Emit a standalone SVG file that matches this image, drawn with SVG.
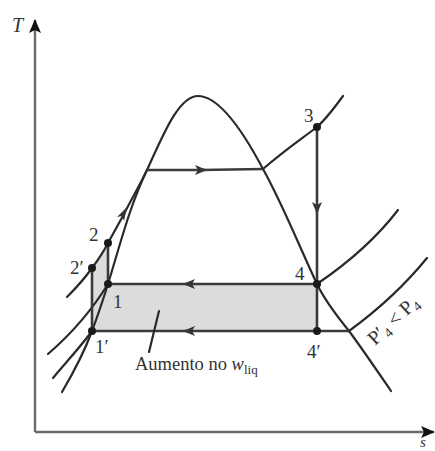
<svg xmlns="http://www.w3.org/2000/svg" width="435" height="451" viewBox="0 0 435 451">
<style>
.c{fill:none;stroke:#2a2a2a;stroke-width:2.2;stroke-linecap:round}
.h{fill:none;stroke:#3a3a3a;stroke-width:2.6}
.ax{fill:none;stroke:#6a6a6a;stroke-width:2.4}
.d{fill:#1a1a1a}
.t{font-family:"Liberation Serif","DejaVu Serif",serif;font-size:19px;fill:#333}
.tl{font-family:"Liberation Serif","DejaVu Serif",serif;font-size:18.5px;fill:#333}
.ah{fill:#333}
</style>
<defs>
<marker id="arr" viewBox="0 0 12 10" refX="10" refY="5" markerWidth="12" markerHeight="10" markerUnits="userSpaceOnUse" orient="auto">
<path d="M0,0 L12,5 L0,10 L3,5 z" fill="#333"/>
</marker>
<marker id="axa" viewBox="0 0 14 12" refX="13" refY="6" markerWidth="14" markerHeight="12" markerUnits="userSpaceOnUse" orient="auto">
<path d="M0,0 L14,6 L0,12 L3,6 z" fill="#111"/>
</marker>
</defs>

<g id="area">
<path d="M92,331 L92,268 C98,260 104,251 108,243 L108,284 L317,284 L317,331 Z" fill="#dcdcdc" stroke="none"/>
</g>

<g id="axes">
<line class="ax" x1="35" y1="432" x2="35" y2="20" marker-end="url(#axa)"/>
<line class="ax" x1="35" y1="432" x2="434" y2="432" marker-end="url(#axa)"/>
<text x="12" y="32" class="t" style="font-style:italic;font-size:20px">T</text>
<text x="420" y="447" class="t" style="font-style:italic;font-size:15px">s</text>
</g>

<g id="dome">
<path class="c" d="M62,392 C75,370 85,350 92,331 C98,315 103,300 108,284 C120,245 130,205 147,170 C162,138 178,96 198,96 C220,96 245,135 263,169 C283,205 300,248 317,284 C326,303 338,317 349,331 C361,347 378,372 391,391"/>
</g>

<g id="connectors">
<path class="c" d="M67,297 C77,287 85,278 92,268 C98,260 104,251 108,243 C113,234 118,225 124,214"/>
<path class="c" d="M123,216 C131,200 140,185 147,170"/>
<path class="ah" d="M127,207 L124,221 L122,216 L117,217 Z"/>
<path class="h" d="M147,170 L205,170" marker-end="url(#arr)"/>
<path class="h" d="M200,170 L263,169"/>
<path class="c" d="M263,169 C285,150 300,140 317,127 C327,118 335,107 343,96"/>
<path class="h" d="M317,127 L317,212" marker-end="url(#arr)"/>
<path class="h" d="M317,208 L317,284"/>
<path class="c" d="M48,354 C70,335 92,310 108,284"/>
<path class="h" d="M317,284 L185,284" marker-end="url(#arr)"/>
<path class="h" d="M190,284 L108,284"/>
<path class="c" d="M317,284 C345,265 375,240 398,210"/>
<path class="c" d="M53,378 C68,360 82,345 92,331"/>
<path class="h" d="M349,331 L185,331" marker-end="url(#arr)"/>
<path class="h" d="M190,331 L92,331"/>
<path class="c" d="M349,331 C375,312 405,285 427,258"/>
<path class="h" d="M317,284 L317,331"/>
<path class="h" d="M92,268 L92,331"/>
<path class="h" d="M108,243 L108,284"/>
<path class="c" stroke-width="1.6" d="M149,352 L159,311"/>
</g>

<g id="p1"><circle class="d" cx="108" cy="284" r="4"/><text class="t" x="113" y="308">1</text></g>
<g id="p1p"><circle class="d" cx="92" cy="331" r="4"/><text class="t" x="95" y="353">1′</text></g>
<g id="p2"><circle class="d" cx="108" cy="243" r="4"/><text class="t" x="89" y="241">2</text></g>
<g id="p2p"><circle class="d" cx="92" cy="268" r="4"/><text class="t" x="70" y="274">2′</text></g>
<g id="p3"><circle class="d" cx="317" cy="127" r="4"/><text class="t" x="304" y="122">3</text></g>
<g id="p4"><circle class="d" cx="317" cy="284" r="4"/><text class="t" x="295" y="280">4</text></g>
<g id="p4p"><circle class="d" cx="317" cy="331" r="4"/><text class="t" x="307" y="358">4′</text></g>

<g id="label-w">
<text class="tl" x="135" y="370">Aumento no <tspan font-style="italic">w</tspan><tspan font-size="13" dy="4">liq</tspan></text>
</g>
<g id="label-p">
<text class="t" style="font-size:20px" transform="translate(375,346) rotate(-43)">P′<tspan font-size="13.5" dy="4">4</tspan><tspan dy="-4"> &lt; P</tspan><tspan font-size="13.5" dy="4">4</tspan></text>
</g>
</svg>
